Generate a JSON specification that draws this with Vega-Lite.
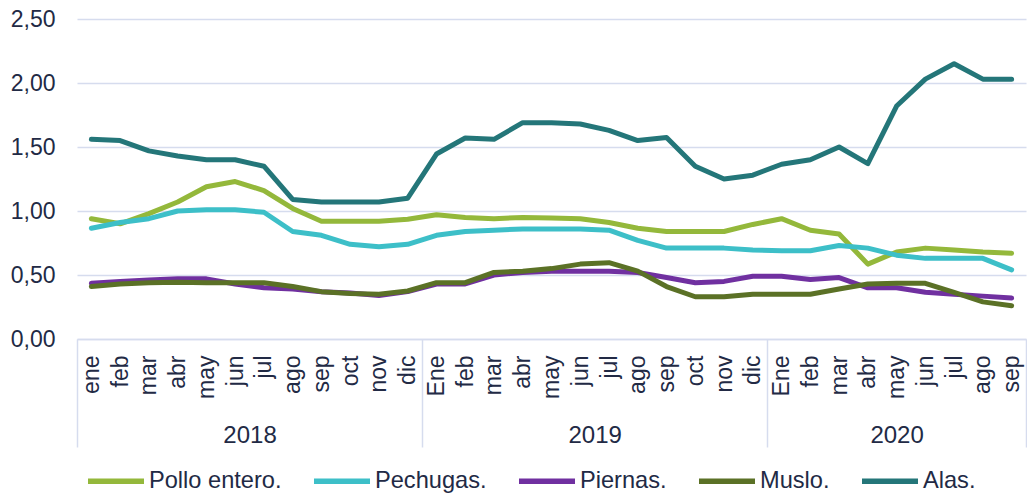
{
  "$schema": "https://vega.github.io/schema/vega-lite/v6.json",
  "width": 949,
  "height": 320,
  "autosize": {"type": "none"},
  "padding": {"left": 77, "top": 19, "right": 1, "bottom": 156},
  "background": "white",
  "config": {
    "font": "Liberation Sans",
    "view": {"stroke": null},
    "axis": {"labelColor": "#222A45", "labelFont": "Liberation Sans"},
    "legend": {"labelColor": "#222A45", "labelFont": "Liberation Sans"}
  },
  "datasets": {
    "precios": [
      {"serie":"Pollo entero.","n":1,"v":0.94},{"serie":"Pollo entero.","n":2,"v":0.90},{"serie":"Pollo entero.","n":3,"v":0.98},{"serie":"Pollo entero.","n":4,"v":1.07},{"serie":"Pollo entero.","n":5,"v":1.19},{"serie":"Pollo entero.","n":6,"v":1.23},{"serie":"Pollo entero.","n":7,"v":1.16},{"serie":"Pollo entero.","n":8,"v":1.02},{"serie":"Pollo entero.","n":9,"v":0.92},{"serie":"Pollo entero.","n":10,"v":0.92},{"serie":"Pollo entero.","n":11,"v":0.92},{"serie":"Pollo entero.","n":12,"v":0.935},
      {"serie":"Pollo entero.","n":13,"v":0.97},{"serie":"Pollo entero.","n":14,"v":0.95},{"serie":"Pollo entero.","n":15,"v":0.94},{"serie":"Pollo entero.","n":16,"v":0.95},{"serie":"Pollo entero.","n":17,"v":0.945},{"serie":"Pollo entero.","n":18,"v":0.94},{"serie":"Pollo entero.","n":19,"v":0.91},{"serie":"Pollo entero.","n":20,"v":0.865},{"serie":"Pollo entero.","n":21,"v":0.84},{"serie":"Pollo entero.","n":22,"v":0.84},{"serie":"Pollo entero.","n":23,"v":0.84},{"serie":"Pollo entero.","n":24,"v":0.895},
      {"serie":"Pollo entero.","n":25,"v":0.94},{"serie":"Pollo entero.","n":26,"v":0.85},{"serie":"Pollo entero.","n":27,"v":0.82},{"serie":"Pollo entero.","n":28,"v":0.585},{"serie":"Pollo entero.","n":29,"v":0.68},{"serie":"Pollo entero.","n":30,"v":0.71},{"serie":"Pollo entero.","n":31,"v":0.695},{"serie":"Pollo entero.","n":32,"v":0.68},{"serie":"Pollo entero.","n":33,"v":0.67},

      {"serie":"Pechugas.","n":1,"v":0.865},{"serie":"Pechugas.","n":2,"v":0.91},{"serie":"Pechugas.","n":3,"v":0.94},{"serie":"Pechugas.","n":4,"v":1.00},{"serie":"Pechugas.","n":5,"v":1.01},{"serie":"Pechugas.","n":6,"v":1.01},{"serie":"Pechugas.","n":7,"v":0.99},{"serie":"Pechugas.","n":8,"v":0.84},{"serie":"Pechugas.","n":9,"v":0.81},{"serie":"Pechugas.","n":10,"v":0.74},{"serie":"Pechugas.","n":11,"v":0.72},{"serie":"Pechugas.","n":12,"v":0.74},
      {"serie":"Pechugas.","n":13,"v":0.81},{"serie":"Pechugas.","n":14,"v":0.84},{"serie":"Pechugas.","n":15,"v":0.85},{"serie":"Pechugas.","n":16,"v":0.86},{"serie":"Pechugas.","n":17,"v":0.86},{"serie":"Pechugas.","n":18,"v":0.86},{"serie":"Pechugas.","n":19,"v":0.85},{"serie":"Pechugas.","n":20,"v":0.77},{"serie":"Pechugas.","n":21,"v":0.71},{"serie":"Pechugas.","n":22,"v":0.71},{"serie":"Pechugas.","n":23,"v":0.71},{"serie":"Pechugas.","n":24,"v":0.695},
      {"serie":"Pechugas.","n":25,"v":0.69},{"serie":"Pechugas.","n":26,"v":0.69},{"serie":"Pechugas.","n":27,"v":0.73},{"serie":"Pechugas.","n":28,"v":0.71},{"serie":"Pechugas.","n":29,"v":0.655},{"serie":"Pechugas.","n":30,"v":0.63},{"serie":"Pechugas.","n":31,"v":0.63},{"serie":"Pechugas.","n":32,"v":0.63},{"serie":"Pechugas.","n":33,"v":0.54},

      {"serie":"Piernas.","n":1,"v":0.435},{"serie":"Piernas.","n":2,"v":0.45},{"serie":"Piernas.","n":3,"v":0.46},{"serie":"Piernas.","n":4,"v":0.47},{"serie":"Piernas.","n":5,"v":0.47},{"serie":"Piernas.","n":6,"v":0.43},{"serie":"Piernas.","n":7,"v":0.40},{"serie":"Piernas.","n":8,"v":0.39},{"serie":"Piernas.","n":9,"v":0.37},{"serie":"Piernas.","n":10,"v":0.36},{"serie":"Piernas.","n":11,"v":0.34},{"serie":"Piernas.","n":12,"v":0.37},
      {"serie":"Piernas.","n":13,"v":0.43},{"serie":"Piernas.","n":14,"v":0.43},{"serie":"Piernas.","n":15,"v":0.50},{"serie":"Piernas.","n":16,"v":0.52},{"serie":"Piernas.","n":17,"v":0.53},{"serie":"Piernas.","n":18,"v":0.53},{"serie":"Piernas.","n":19,"v":0.53},{"serie":"Piernas.","n":20,"v":0.52},{"serie":"Piernas.","n":21,"v":0.48},{"serie":"Piernas.","n":22,"v":0.44},{"serie":"Piernas.","n":23,"v":0.45},{"serie":"Piernas.","n":24,"v":0.49},
      {"serie":"Piernas.","n":25,"v":0.49},{"serie":"Piernas.","n":26,"v":0.465},{"serie":"Piernas.","n":27,"v":0.48},{"serie":"Piernas.","n":28,"v":0.40},{"serie":"Piernas.","n":29,"v":0.40},{"serie":"Piernas.","n":30,"v":0.365},{"serie":"Piernas.","n":31,"v":0.35},{"serie":"Piernas.","n":32,"v":0.335},{"serie":"Piernas.","n":33,"v":0.32},

      {"serie":"Muslo.","n":1,"v":0.41},{"serie":"Muslo.","n":2,"v":0.43},{"serie":"Muslo.","n":3,"v":0.44},{"serie":"Muslo.","n":4,"v":0.443},{"serie":"Muslo.","n":5,"v":0.44},{"serie":"Muslo.","n":6,"v":0.44},{"serie":"Muslo.","n":7,"v":0.44},{"serie":"Muslo.","n":8,"v":0.41},{"serie":"Muslo.","n":9,"v":0.37},{"serie":"Muslo.","n":10,"v":0.355},{"serie":"Muslo.","n":11,"v":0.35},{"serie":"Muslo.","n":12,"v":0.375},
      {"serie":"Muslo.","n":13,"v":0.44},{"serie":"Muslo.","n":14,"v":0.44},{"serie":"Muslo.","n":15,"v":0.52},{"serie":"Muslo.","n":16,"v":0.53},{"serie":"Muslo.","n":17,"v":0.55},{"serie":"Muslo.","n":18,"v":0.585},{"serie":"Muslo.","n":19,"v":0.596},{"serie":"Muslo.","n":20,"v":0.53},{"serie":"Muslo.","n":21,"v":0.41},{"serie":"Muslo.","n":22,"v":0.33},{"serie":"Muslo.","n":23,"v":0.33},{"serie":"Muslo.","n":24,"v":0.35},
      {"serie":"Muslo.","n":25,"v":0.35},{"serie":"Muslo.","n":26,"v":0.35},{"serie":"Muslo.","n":27,"v":0.39},{"serie":"Muslo.","n":28,"v":0.43},{"serie":"Muslo.","n":29,"v":0.435},{"serie":"Muslo.","n":30,"v":0.435},{"serie":"Muslo.","n":31,"v":0.365},{"serie":"Muslo.","n":32,"v":0.29},{"serie":"Muslo.","n":33,"v":0.26},

      {"serie":"Alas.","n":1,"v":1.56},{"serie":"Alas.","n":2,"v":1.55},{"serie":"Alas.","n":3,"v":1.47},{"serie":"Alas.","n":4,"v":1.43},{"serie":"Alas.","n":5,"v":1.40},{"serie":"Alas.","n":6,"v":1.40},{"serie":"Alas.","n":7,"v":1.35},{"serie":"Alas.","n":8,"v":1.09},{"serie":"Alas.","n":9,"v":1.07},{"serie":"Alas.","n":10,"v":1.07},{"serie":"Alas.","n":11,"v":1.07},{"serie":"Alas.","n":12,"v":1.10},
      {"serie":"Alas.","n":13,"v":1.445},{"serie":"Alas.","n":14,"v":1.57},{"serie":"Alas.","n":15,"v":1.56},{"serie":"Alas.","n":16,"v":1.69},{"serie":"Alas.","n":17,"v":1.69},{"serie":"Alas.","n":18,"v":1.68},{"serie":"Alas.","n":19,"v":1.63},{"serie":"Alas.","n":20,"v":1.55},{"serie":"Alas.","n":21,"v":1.575},{"serie":"Alas.","n":22,"v":1.35},{"serie":"Alas.","n":23,"v":1.25},{"serie":"Alas.","n":24,"v":1.28},
      {"serie":"Alas.","n":25,"v":1.365},{"serie":"Alas.","n":26,"v":1.40},{"serie":"Alas.","n":27,"v":1.50},{"serie":"Alas.","n":28,"v":1.37},{"serie":"Alas.","n":29,"v":1.82},{"serie":"Alas.","n":30,"v":2.03},{"serie":"Alas.","n":31,"v":2.15},{"serie":"Alas.","n":32,"v":2.03},{"serie":"Alas.","n":33,"v":2.03}
    ]
  },
  "data": {"name": "precios"},
  "layer": [
    {
      "mark": {"type": "line", "strokeWidth": 5, "strokeJoin": "round", "strokeCap": "round"},
      "encoding": {
        "x": {
          "field": "n", "type": "quantitative",
          "scale": {"domain": [0.5, 33.5], "nice": false, "zero": false},
          "axis": {
            "orient": "bottom",
            "title": null,
            "values": [1,2,3,4,5,6,7,8,9,10,11,12,13,14,15,16,17,18,19,20,21,22,23,24,25,26,27,28,29,30,31,32,33],
            "labelExpr": "['ene','feb','mar','abr','may','jun','jul','ago','sep','oct','nov','dic','Ene','feb','mar','abr','may','jun','jul','ago','sep','oct','nov','dic','Ene','feb','mar','abr','may','jun','jul','ago','sep'][datum.value - 1]",
            "labelAngle": -90, "labelAlign": "right", "labelBaseline": "middle",
            "labelFontSize": 23, "labelPadding": 16,
            "ticks": false, "tickSize": 0, "grid": false,
            "domainColor": "#D6DCEE", "domainWidth": 1.5,
            "labelOverlap": false, "labelFlush": false, "labelBound": false
          }
        },
        "y": {
          "field": "v", "type": "quantitative",
          "scale": {"domain": [0, 2.5], "nice": false, "zero": true},
          "axis": {
            "title": null,
            "values": [0, 0.5, 1, 1.5, 2, 2.5],
            "labelExpr": "replace(format(datum.value, '.2f'), '.', ',')",
            "labelFontSize": 23, "labelPadding": 22,
            "domain": false, "ticks": false,
            "grid": true, "gridColor": "#D6DCEE", "gridWidth": 1.5,
            "labelFlush": false
          }
        },
        "color": {
          "field": "serie", "type": "nominal",
          "scale": {
            "domain": ["Pollo entero.", "Pechugas.", "Piernas.", "Muslo.", "Alas."],
            "range": ["#94B83B", "#3DBFC8", "#7030A0", "#5B7126", "#247679"]
          },
          "legend": {
            "title": null, "orient": "none", "direction": "horizontal",
            "legendX": 8, "legendY": 431,
            "symbolType": "stroke", "symbolSize": 3136, "symbolStrokeWidth": 5.5,
            "labelFontSize": 23.6, "labelOffset": 2, "columnPadding": 21
          }
        }
      }
    },
    {
      "mark": {"type": "rule", "strokeOpacity": 0},
      "encoding": {
        "x": {
          "field": "n", "type": "quantitative",
          "axis": {
            "orient": "bottom",
            "title": null, "values": [0.5, 12.5, 24.5, 33.5],
            "labels": false, "domain": false, "grid": false,
            "ticks": true, "tickSize": 108, "tickColor": "#D6DCEE", "tickWidth": 1.5
          }
        }
      }
    },
    {
      "mark": {"type": "rule", "strokeOpacity": 0},
      "encoding": {
        "x": {
          "field": "n", "type": "quantitative",
          "axis": {
            "orient": "bottom",
            "title": null, "values": [6.5, 18.5, 29],
            "labelExpr": "datum.value < 12 ? '2018' : (datum.value < 24 ? '2019' : '2020')",
            "labelFontSize": 24, "labelPadding": 84, "labelFlush": false,
            "ticks": false, "tickSize": 0, "domain": false, "grid": false
          }
        }
      }
    }
  ],
  "resolve": {"axis": {"x": "independent"}}
}
